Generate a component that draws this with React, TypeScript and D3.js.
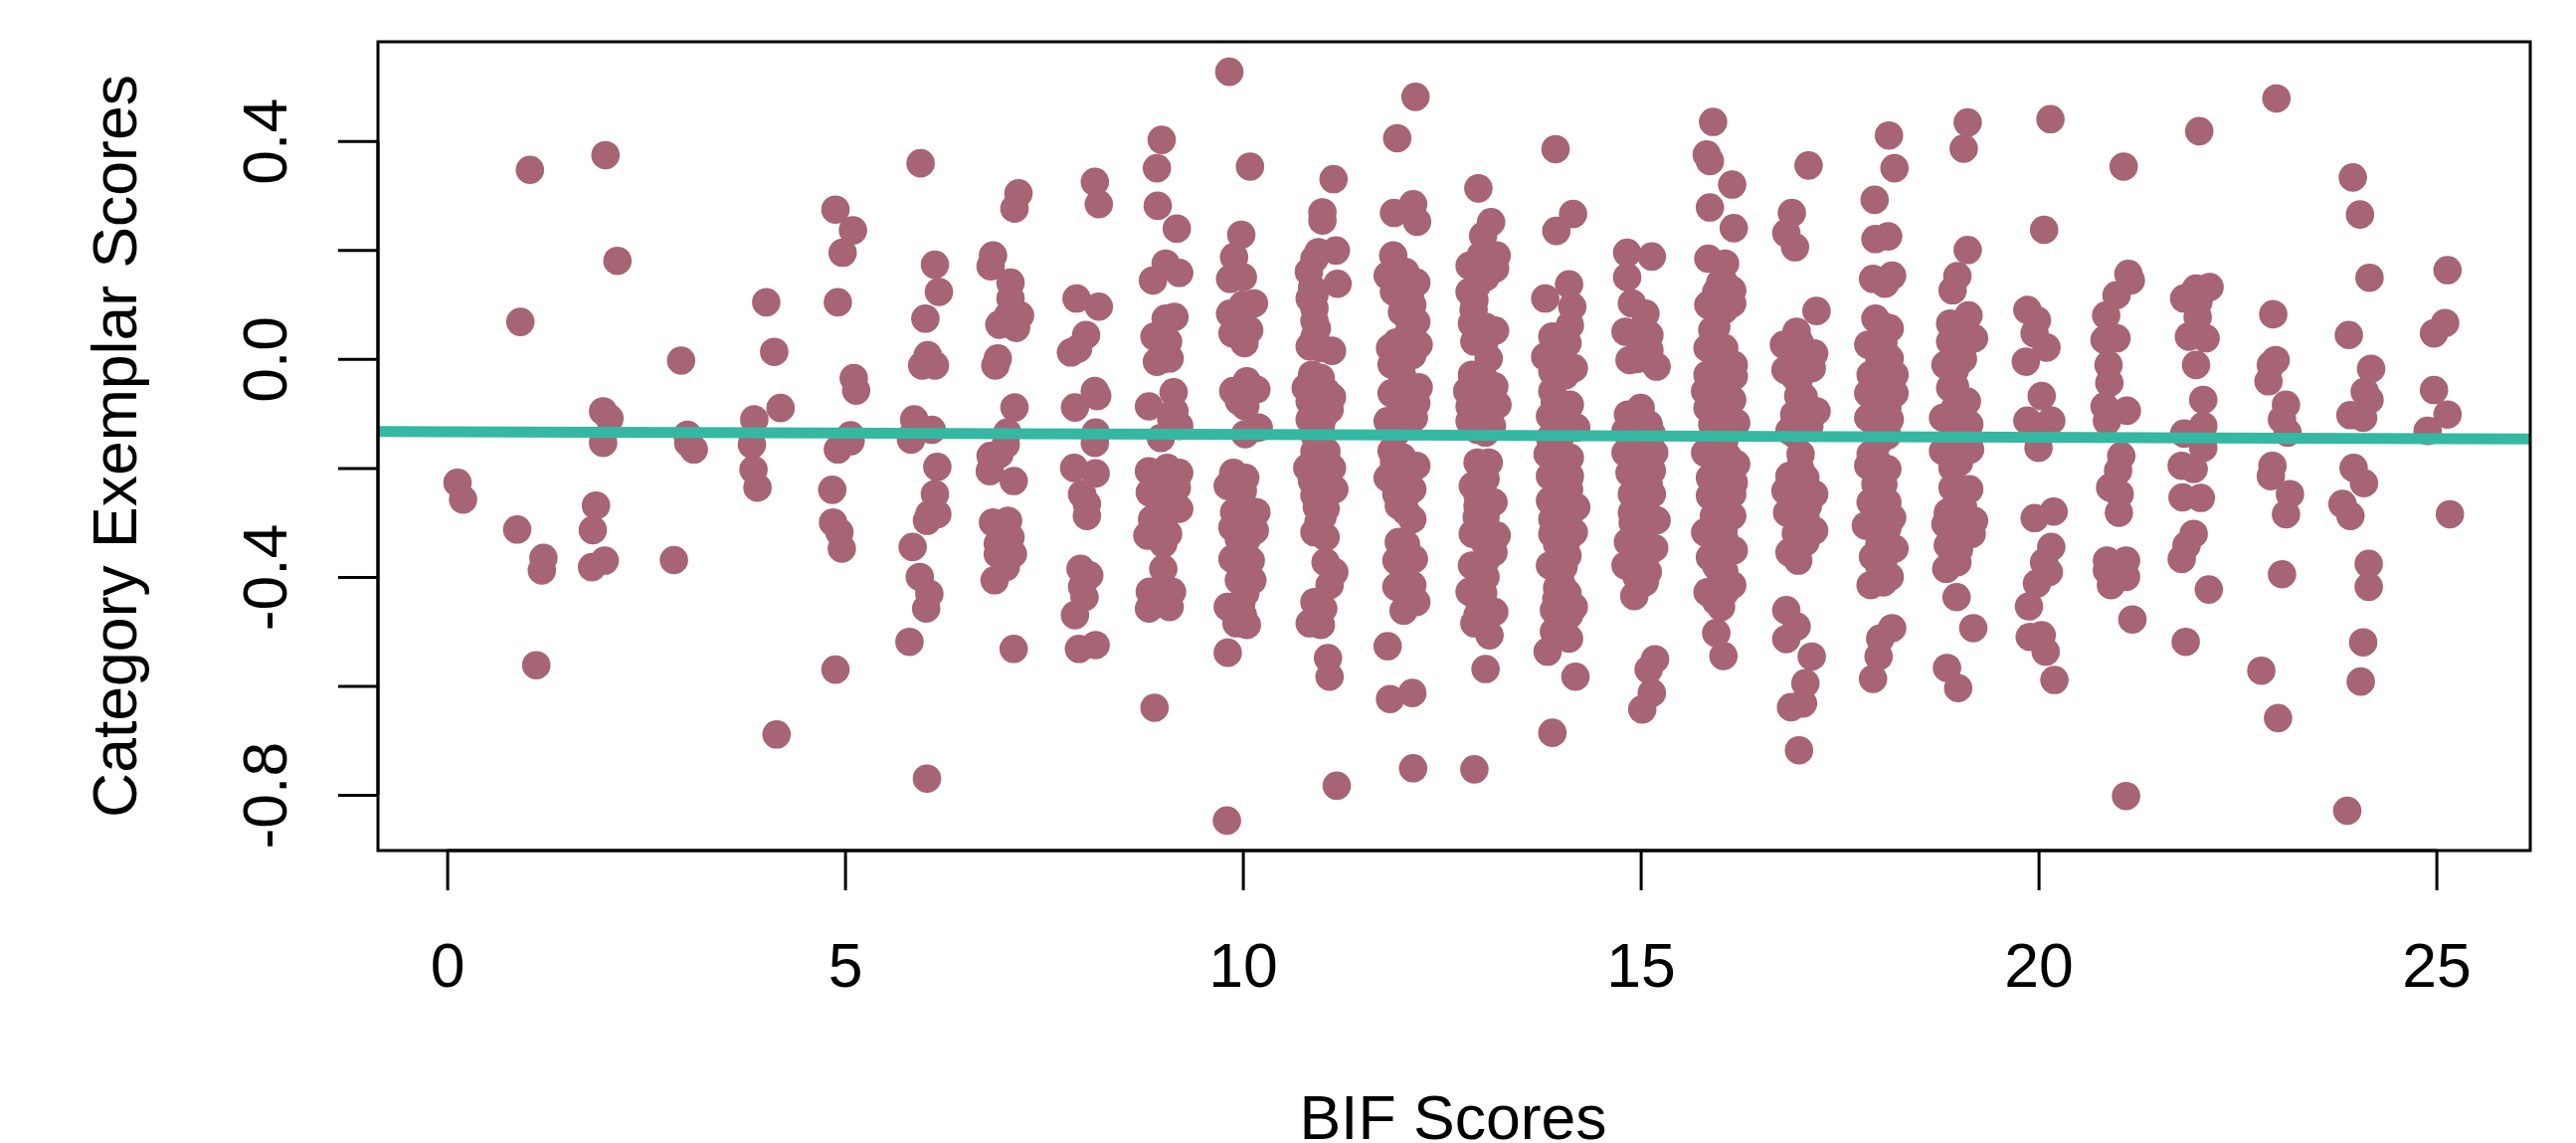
import * as d3 from "d3";
import { useEffect, useRef } from "react";

type Pt = [number, number];

// jittered [BIF score, exemplar score] pairs, one list per BIF score
const bif0: Pt[] = [[0.13,-0.227],[0.2,-0.258]];
const bif1: Pt[] = [[1.04,0.347],[0.92,0.068],[0.88,-0.313],[1.21,-0.365],[1.19,-0.388],[1.12,-0.562]];
const bif2: Pt[] = [[1.99,0.374],[2.14,0.18],[1.96,-0.096],[2.04,-0.109],[1.96,-0.154],[1.87,-0.269],[1.83,-0.314],[1.98,-0.37],[1.82,-0.382]];
const bif3: Pt[] = [[2.94,-0.003],[3.02,-0.139],[3.03,-0.154],[3.1,-0.166],[2.85,-0.369]];
const bif4: Pt[] = [[4.01,0.104],[4.11,0.013],[4.19,-0.09],[3.86,-0.111],[3.83,-0.157],[3.85,-0.203],[3.9,-0.236],[4.14,-0.689]];
const bif5: Pt[] = [[4.91,0.104],[4.88,0.274],[5.1,0.236],[4.97,0.195],[5.11,-0.035],[5.14,-0.058],[5.07,-0.14],[4.91,-0.166],[5.07,-0.151],[4.84,-0.24],[4.85,-0.3],[4.93,-0.318],[4.96,-0.348],[4.88,-0.57]];
const bif6: Pt[] = [[5.95,0.359],[6.13,0.173],[6.18,0.123],[6.01,0.074],[6.04,0.007],[5.97,-0.012],[6.13,-0.012],[5.87,-0.111],[6.09,-0.13],[5.84,-0.141],[5.83,-0.148],[6.16,-0.198],[6.13,-0.248],[6.06,-0.285],[6.16,-0.285],[6.03,-0.297],[5.85,-0.345],[5.94,-0.4],[6.06,-0.431],[6.02,-0.458],[5.81,-0.519],[6.03,-0.77]];
const bif7: Pt[] = [[7.18,0.304],[7.13,0.276],[6.86,0.19],[6.83,0.17],[7.08,0.14],[7.08,0.111],[7.2,0.08],[6.94,0.063],[7.15,0.057],[6.92,0.001],[6.89,-0.012],[7.13,-0.089],[7.04,-0.135],[7.02,-0.157],[6.83,-0.178],[6.94,-0.175],[6.82,-0.206],[7.12,-0.224],[6.86,-0.3],[7.05,-0.297],[7.08,-0.327],[6.92,-0.339],[6.92,-0.358],[7.11,-0.358],[7.02,-0.382],[6.88,-0.406],[7.12,-0.532],[7,-0.32],[7,-0.35],[7.05,0.08]];
const bif8: Pt[] = [[8.14,0.325],[8.19,0.284],[7.91,0.111],[8.19,0.096],[8.03,0.044],[7.84,0.012],[7.93,0.019],[7.89,-0.089],[8.14,-0.059],[8.17,-0.068],[8.15,-0.135],[8.14,-0.154],[7.88,-0.2],[8.15,-0.21],[7.98,-0.248],[8.04,-0.266],[8.04,-0.288],[7.96,-0.385],[8.07,-0.397],[7.98,-0.418],[8.01,-0.437],[7.89,-0.47],[7.94,-0.532],[8.15,-0.525]];
const bif9: Pt[] = [[8.98,0.402],[8.92,0.35],[8.93,0.281],[9.17,0.239],[9.03,0.175],[9.2,0.158],[8.87,0.144],[9.14,0.077],[9.03,0.074],[8.89,0.041],[9.06,0.032],[8.92,-0.005],[9.08,0.001],[9.13,-0.061],[8.82,-0.087],[9.14,-0.096],[9.2,-0.123],[8.97,-0.145],[8.82,-0.206],[9.2,-0.209],[8.97,-0.224],[8.83,-0.245],[9.17,-0.236],[8.97,-0.266],[9.2,-0.275],[8.86,-0.294],[8.8,-0.324],[9.06,-0.321],[9,-0.339],[9,-0.385],[9.11,-0.427],[8.83,-0.427],[8.82,-0.458],[9.08,-0.455],[8.89,-0.64],[9,-0.25],[9,-0.3],[9.05,-0.2],[9.05,-0.44],[8.95,-0.44],[9,0],[9.1,-0.11]];
const bif10: Pt[] = [[9.83,0.527],[10.09,0.353],[9.98,0.228],[9.89,0.187],[9.84,0.147],[10,0.15],[10.14,0.102],[10,0.099],[9.84,0.083],[9.87,0.047],[10.08,0.053],[10.02,0.029],[10.05,-0.041],[10.17,-0.056],[9.88,-0.059],[9.95,-0.077],[10.03,-0.087],[10.2,-0.126],[10.03,-0.138],[9.88,-0.209],[10.03,-0.218],[9.81,-0.233],[10,-0.242],[9.89,-0.281],[10.17,-0.281],[9.87,-0.309],[10.15,-0.315],[10,-0.303],[9.87,-0.367],[10.1,-0.37],[10,-0.345],[10.12,-0.406],[9.95,-0.406],[9.81,-0.455],[9.98,-0.449],[9.92,-0.485],[10.05,-0.488],[9.81,-0.539],[9.8,-0.847],[10,-0.27],[10.05,-0.33],[10,-0.385],[10.03,-0.43],[10,-0.47],[10.05,-0.28],[9.95,-0.33]];
const bif11: Pt[] = [[11.14,0.33],[11,0.269],[11,0.254],[11.17,0.199],[10.95,0.196],[10.9,0.184],[10.83,0.16],[11.19,0.138],[10.84,0.111],[10.9,0.093],[10.93,0.056],[10.84,0.023],[11.12,0.015],[10.98,0.02],[10.87,-0.029],[10.98,-0.035],[10.79,-0.053],[11.12,-0.07],[10.98,-0.059],[10.84,-0.078],[11.09,-0.093],[10.84,-0.111],[10.98,-0.123],[10.98,-0.15],[10.98,-0.169],[10.81,-0.2],[11.12,-0.2],[10.87,-0.224],[11.15,-0.239],[10.93,-0.272],[11.04,-0.275],[10.9,-0.318],[11.04,-0.327],[11.04,-0.373],[11.15,-0.391],[11.09,-0.415],[10.9,-0.446],[11.01,-0.458],[10.84,-0.485],[10.98,-0.488],[11.07,-0.549],[11.09,-0.583],[11.18,-0.783],[10.87,0.13],[10.9,0.07],[10.9,0.04],[10.9,0.118],[10.98,-0.09],[11,-0.11],[10.9,-0.05],[10.92,-0.09],[11.05,-0.06],[10.9,-0.14],[10.98,-0.2],[10.98,-0.23],[10.98,-0.25],[10.95,-0.3],[11,-0.29],[10.9,-0.17],[11.05,-0.17],[11.05,-0.22],[10.9,-0.25]];
const bif12: Pt[] = [[12.17,0.481],[11.94,0.405],[12.14,0.284],[11.9,0.268],[12.19,0.252],[11.89,0.19],[11.82,0.153],[12.04,0.16],[12.18,0.14],[11.9,0.123],[12.13,0.099],[12,0.086],[12.18,0.068],[12.1,0.062],[12.21,0.026],[11.85,0.02],[12.02,0.02],[11.87,-0.01],[12.13,0.007],[12,-0.01],[12.21,-0.052],[11.87,-0.063],[12.04,-0.059],[12.18,-0.081],[11.82,-0.114],[12.15,-0.108],[12,-0.093],[11.93,-0.135],[11.87,-0.169],[12.18,-0.196],[11.82,-0.218],[12.13,-0.239],[11.93,-0.248],[11.96,-0.269],[12.13,-0.294],[11.96,-0.336],[12.15,-0.367],[11.93,-0.37],[11.93,-0.418],[12.13,-0.415],[12.18,-0.446],[12.02,-0.462],[11.82,-0.527],[12.13,-0.613],[11.85,-0.624],[12.14,-0.751],[12.03,0.125],[12.1,0.12],[12.05,0.09],[12.1,0.08],[12.1,0.04],[12.05,0.04],[11.93,0.01],[11.93,0.03],[12,-0.03],[11.95,-0.07],[12.08,-0.07],[12.05,-0.1],[11.95,-0.11],[12.08,-0.12],[12,-0.125],[12,-0.18],[12.05,-0.2],[12,-0.22],[12.05,-0.25],[11.9,-0.19],[12.05,-0.28],[12,-0.38],[12.08,-0.36],[12.05,-0.34],[12.05,-0.43]];
const bif13: Pt[] = [[12.96,0.313],[13.12,0.251],[13.02,0.226],[13.19,0.19],[12.99,0.19],[13.17,0.166],[12.85,0.171],[12.85,0.123],[12.94,0.135],[12.91,0.108],[12.88,0.065],[13.17,0.052],[13.05,0.059],[12.91,0.032],[13.09,0.001],[12.88,-0.029],[13.16,-0.05],[12.82,-0.059],[12.99,-0.059],[13.2,-0.084],[12.85,-0.087],[13.05,-0.084],[13.13,-0.123],[12.85,-0.114],[13.05,-0.135],[13.09,-0.19],[12.98,-0.196],[12.89,-0.233],[13.15,-0.263],[13.05,-0.254],[12.94,-0.29],[13.19,-0.324],[12.89,-0.321],[13.05,-0.315],[13.15,-0.355],[12.88,-0.379],[13.05,-0.4],[12.85,-0.427],[13.16,-0.464],[13.02,-0.43],[12.91,-0.485],[13.1,-0.507],[13.05,-0.569],[12.91,-0.753],[13.05,0.18],[12.93,0.165],[13.05,0.15],[12.9,0.09],[12.95,0.055],[12.93,-0.07],[13.05,-0.04],[12.93,-0.1],[13,-0.11],[12.95,-0.13],[13.05,-0.1],[13.03,0.03],[13,0.06],[12.95,-0.19],[12.95,-0.25],[13.05,-0.22],[13.05,-0.29],[12.98,-0.32],[12.95,-0.27],[13.05,-0.34],[13.05,-0.37],[12.95,-0.44],[13.05,-0.46],[12.95,-0.47],[13.03,-0.49]];
const bif14: Pt[] = [[13.93,0.385],[14.15,0.266],[13.94,0.235],[14.1,0.137],[13.8,0.111],[14.14,0.096],[14.11,0.062],[13.89,0.041],[14.08,0.029],[13.8,0.004],[14.16,-0.017],[13.89,-0.023],[13.89,-0.059],[14.11,-0.084],[13.86,-0.105],[14.19,-0.126],[14,-0.12],[13.86,-0.145],[13.83,-0.175],[14.11,-0.181],[13.86,-0.215],[14.11,-0.215],[13.86,-0.26],[14.19,-0.272],[14,-0.248],[13.89,-0.294],[13.89,-0.321],[14.16,-0.318],[14.08,-0.361],[13.86,-0.379],[14.03,-0.382],[13.94,-0.44],[14.16,-0.455],[14,-0.412],[13.91,-0.461],[13.91,-0.5],[14.1,-0.513],[13.83,-0.537],[14.18,-0.583],[13.89,-0.686],[14,-0.17],[14,-0.2],[14,-0.23],[14,-0.27],[14,-0.31],[14,-0.34],[14,-0.37],[14,-0.44],[14,-0.47],[14,-0.5],[14.1,-0.24],[14.1,-0.28],[14.08,-0.33],[14.08,-0.43],[14.1,-0.47],[13.95,-0.34],[13.95,-0.42],[13.93,-0.18],[13.97,0.02],[14,0],[13.95,-0.03],[13.92,-0.08],[14,-0.1],[14,-0.14],[14,0.04],[14.05,-0.03]];
const bif15: Pt[] = [[14.83,0.195],[15.14,0.188],[14.83,0.15],[14.89,0.102],[15.06,0.083],[14.81,0.05],[15.11,0.044],[14.97,0.044],[14.86,-0.002],[15.2,-0.014],[15.11,0.016],[15,-0.09],[14.84,-0.102],[14.81,-0.132],[15.14,-0.138],[14.97,-0.15],[14.81,-0.172],[15.17,-0.172],[14.95,-0.187],[14.86,-0.209],[15.14,-0.205],[14.89,-0.248],[15.14,-0.248],[14.89,-0.282],[15.2,-0.296],[15,-0.29],[14.84,-0.336],[15.17,-0.347],[15,-0.327],[14.81,-0.379],[15.09,-0.391],[14.97,-0.376],[14.92,-0.435],[15.18,-0.551],[15.1,-0.57],[15.14,-0.613],[15.02,-0.643],[15,-0.17],[15,-0.2],[15,-0.23],[15,-0.26],[15.03,-0.31],[15,-0.35],[14.9,-0.3],[14.92,-0.36],[15.05,-0.37],[15.1,-0.3],[15.1,-0.2],[15.1,-0.23],[14.95,-0.4],[15.05,-0.41],[15,-0.385],[15,0.02],[14.95,0],[15.1,0],[15,-0.12],[14.95,-0.14],[15.05,-0.14],[15.1,-0.12]];
const bif16: Pt[] = [[15.91,0.435],[15.83,0.375],[15.87,0.363],[16.15,0.32],[15.87,0.278],[16.17,0.24],[15.85,0.184],[16.06,0.175],[16.15,0.126],[15.95,0.123],[16.15,0.102],[15.85,0.099],[15.9,0.053],[15.95,0.059],[15.84,0.02],[16,0.004],[16.17,-0.011],[15.84,-0.029],[16.17,-0.032],[16,-0.041],[15.81,-0.059],[16.15,-0.075],[15.84,-0.09],[16.2,-0.117],[15.9,-0.12],[16,-0.102],[15.9,-0.145],[15.81,-0.172],[16.2,-0.193],[16,-0.175],[15.87,-0.218],[16.17,-0.227],[15.87,-0.251],[16.15,-0.248],[15.92,-0.288],[16.15,-0.288],[15.81,-0.318],[16.04,-0.315],[16.17,-0.351],[15.87,-0.364],[16.04,-0.358],[15.84,-0.428],[16.15,-0.415],[16.01,-0.406],[16.01,-0.455],[15.95,-0.503],[16.04,-0.545],[16,-0.2],[16,-0.23],[16,-0.26],[16,-0.29],[16.05,-0.33],[16,-0.34],[15.95,-0.38],[16.05,-0.39],[15.95,-0.22],[16.08,-0.2],[16.08,-0.26],[15.93,-0.32],[16.1,-0.18],[16.05,-0.43],[15.95,-0.445],[16,0.14],[15.95,0.09],[16.05,0.09],[16.05,0.14],[15.95,0.02],[16.05,0.02],[15.95,-0.03],[16.05,-0.02],[15.97,-0.07],[16.05,-0.08],[16.05,-0.12],[15.95,-0.11],[16.05,-0.15]];
const bif17: Pt[] = [[17.11,0.355],[16.9,0.268],[16.83,0.231],[16.94,0.205],[17.21,0.088],[16.96,0.05],[16.8,0.026],[17.18,0.01],[17.01,0.001],[17.15,-0.017],[16.82,-0.02],[16.98,-0.041],[16.98,-0.068],[17.21,-0.096],[16.93,-0.102],[16.87,-0.132],[17.12,-0.123],[17.01,-0.175],[17.07,-0.218],[16.87,-0.215],[17.18,-0.248],[16.82,-0.242],[17.01,-0.254],[16.84,-0.282],[17.18,-0.315],[17.01,-0.297],[17.07,-0.336],[16.87,-0.355],[16.98,-0.37],[16.83,-0.461],[16.96,-0.491],[16.83,-0.514],[17.15,-0.546],[17.07,-0.595],[17.04,-0.632],[16.89,-0.639],[16.99,-0.718],[17,0.03],[17.05,-0.02],[16.92,-0.03],[17.05,-0.07],[16.95,-0.14],[17,-0.13],[17.05,-0.11],[17,-0.2],[17,-0.22],[16.95,-0.24],[17.1,-0.27],[16.95,-0.28],[16.95,-0.32],[17.07,-0.29],[17,-0.33]];
const bif18: Pt[] = [[18.12,0.41],[18.19,0.35],[17.94,0.292],[18.11,0.225],[17.95,0.22],[18.16,0.153],[17.92,0.147],[18.07,0.138],[17.95,0.074],[18.13,0.056],[17.86,0.026],[18,0.038],[18.13,0.001],[17.89,-0.029],[18.19,-0.029],[18.04,-0.011],[17.86,-0.063],[18.19,-0.063],[18.04,-0.05],[17.86,-0.108],[18.13,-0.111],[17.98,-0.096],[18.01,-0.132],[17.89,-0.175],[17.86,-0.196],[18.1,-0.202],[17.95,-0.181],[17.89,-0.263],[18.1,-0.263],[18.16,-0.291],[17.83,-0.306],[18.04,-0.306],[18.19,-0.348],[17.92,-0.363],[18.13,-0.4],[17.89,-0.415],[18.16,-0.494],[18.01,-0.513],[17.99,-0.546],[17.92,-0.587],[18.05,0.03],[18.05,0.06],[18,0],[18.1,-0.04],[17.95,-0.03],[17.95,-0.06],[18.1,-0.09],[17.95,-0.12],[18.1,-0.14],[18,-0.15],[18,-0.2],[18.05,-0.23],[17.95,-0.23],[18,-0.26],[18.1,-0.31],[17.95,-0.31],[18,-0.34],[18.05,-0.37],[18,-0.38],[18.05,-0.41]];
const bif19: Pt[] = [[19.11,0.434],[19.06,0.386],[19.11,0.2],[18.98,0.152],[18.92,0.126],[19.12,0.08],[18.89,0.065],[19.19,0.038],[18.89,0.032],[19.04,0.044],[18.83,-0.011],[19.04,0.007],[18.89,-0.053],[19.1,-0.078],[18.8,-0.108],[19.13,-0.12],[18.95,-0.123],[18.95,-0.09],[18.8,-0.169],[19.14,-0.166],[18.92,-0.2],[19.13,-0.239],[18.92,-0.236],[18.86,-0.282],[19.19,-0.297],[18.83,-0.303],[19.16,-0.321],[18.86,-0.342],[19.01,-0.333],[18.98,-0.373],[18.84,-0.385],[18.97,-0.437],[19.18,-0.494],[18.85,-0.567],[18.99,-0.604],[18.98,0.03],[19.05,0],[18.95,-0.02],[18.95,-0.05],[19,-0.14],[19.05,-0.12],[18.95,-0.17],[19,-0.19],[18.95,-0.27],[19.05,-0.27],[19.05,-0.31],[18.95,-0.31],[19,-0.35],[18.92,-0.36]];
const bif20: Pt[] = [[20.15,0.44],[20.07,0.237],[19.86,0.09],[19.98,0.071],[19.95,0.047],[20.1,0.021],[19.84,-0.005],[20.04,-0.068],[19.86,-0.113],[20.16,-0.113],[20.01,-0.135],[20,-0.163],[20.19,-0.28],[19.95,-0.292],[20.16,-0.345],[20.07,-0.373],[20.13,-0.391],[19.98,-0.412],[19.88,-0.454],[19.89,-0.51],[20.04,-0.507],[20.09,-0.537],[20.2,-0.589]];
const bif21: Pt[] = [[21.07,0.353],[21.13,0.156],[21.16,0.144],[20.98,0.117],[20.85,0.08],[20.98,0.038],[20.83,0.035],[20.88,-0.011],[20.89,-0.044],[20.83,-0.087],[21.11,-0.095],[20.86,-0.114],[21.04,-0.178],[21,-0.205],[20.9,-0.236],[21.02,-0.248],[21.01,-0.282],[20.86,-0.37],[21.1,-0.37],[20.86,-0.388],[21.1,-0.4],[20.91,-0.415],[21.18,-0.478],[21.1,-0.802],[20.98,-0.38]];
const bif22: Pt[] = [[22.02,0.418],[22.15,0.132],[21.98,0.129],[21.83,0.111],[22.01,0.105],[22,0.077],[21.89,0.041],[22.1,0.038],[21.98,-0.011],[22.07,-0.075],[22.07,-0.123],[21.83,-0.137],[22.07,-0.163],[21.8,-0.196],[21.95,-0.202],[21.81,-0.254],[22.04,-0.255],[21.95,-0.321],[21.86,-0.342],[21.8,-0.367],[22.14,-0.423],[21.85,-0.519]];
const bif23: Pt[] = [[22.99,0.478],[22.95,0.082],[22.98,-0.002],[22.92,-0.011],[22.89,-0.041],[23.11,-0.084],[23.06,-0.111],[23.13,-0.135],[22.94,-0.196],[22.92,-0.215],[23.16,-0.248],[23.11,-0.285],[23.06,-0.395],[22.8,-0.572],[23.01,-0.659]];
const bif24: Pt[] = [[23.95,0.333],[24.04,0.265],[24.16,0.149],[23.9,0.044],[24.18,-0.018],[24.1,-0.06],[24.16,-0.075],[23.92,-0.103],[24.08,-0.108],[23.96,-0.2],[24.09,-0.228],[23.82,-0.266],[23.92,-0.288],[24.15,-0.376],[24.15,-0.418],[24.08,-0.52],[24.05,-0.592],[23.88,-0.829]];
const bif25: Pt[] = [[25.14,0.163],[25.11,0.066],[24.97,0.047],[24.97,-0.057],[25.14,-0.102],[24.89,-0.132],[25.17,-0.285]];

const points = [bif0, bif1, bif2, bif3, bif4, bif5, bif6, bif7, bif8, bif9, bif10, bif11, bif12, bif13, bif14, bif15, bif16, bif17, bif18, bif19, bif20, bif21, bif22, bif23, bif24, bif25].flat();

// fitted line, value at each edge of the plot
const fitX = [-0.87, 26.18];
const fitY = [-0.133, -0.147];

const xTicks = [0, 5, 10, 15, 20, 25];
const yTicks = [0.4, 0.2, 0, -0.2, -0.4, -0.6, -0.8];
const yLabelled = [0.4, 0, -0.4, -0.8];

const FONT = "'Liberation Sans', Arial, sans-serif";

const App = () => {
  const width = 2590,
    height = 1149,
    left = 380,
    right = 2544,
    top = 42,
    bottom = 855,
    fontSize = 62.5;

  const x = d3.scaleLinear([-0.87, 26.18], [left, right]);
  const y = d3.scaleLinear([-0.902, 0.582], [bottom, top]);
  const fit = d3.line<number>(
    (d) => x(d),
    (d, i) => y(fitY[i]),
  );

  const gx = useRef<SVGGElement>(null);
  const gy = useRef<SVGGElement>(null);

  useEffect(() => {
    const g = d3.select(gx.current);
    g.call(d3.axisBottom(x).tickValues(xTicks).tickSize(40).tickFormat((d) => String(d)));
    g.select(".domain").remove();
    g.selectAll("line").attr("stroke", "#000").attr("stroke-width", 3);
    g.selectAll("text")
      .attr("y", 137)
      .attr("dy", 0)
      .attr("font-size", fontSize)
      .attr("font-family", FONT)
      .attr("fill", "#000");
  }, []);

  useEffect(() => {
    const g = d3.select(gy.current);
    g.call(
      d3
        .axisLeft(y)
        .tickValues(yTicks)
        .tickSize(40)
        .tickFormat((d) => (yLabelled.includes(+d) ? d3.format(".1f")(+d).replace("−", "-") : "")),
    );
    g.select(".domain").remove();
    g.selectAll("line").attr("stroke", "#000").attr("stroke-width", 3);
    g.selectAll("text")
      .attr("x", 0)
      .attr("dy", 0)
      .attr("text-anchor", "middle")
      .attr("transform", "translate(-92, 0) rotate(-90)")
      .attr("font-size", fontSize)
      .attr("font-family", FONT)
      .attr("fill", "#000");
  }, []);

  return (
    <svg
      width={width}
      height={height}
      style={{ position: "absolute", left: 0, top: 0, background: "#fff" }}
    >
      <g fill="#A66475">
        {points.map((d, i) => (
          <circle key={i} cx={x(d[0])} cy={y(d[1])} r={14.3} />
        ))}
      </g>
      <path d={fit(fitX) ?? ""} fill="none" stroke="#35B8A2" strokeWidth={11} />
      <rect x={left} y={top} width={right - left} height={bottom - top} fill="none" stroke="#000" strokeWidth={3} />
      {/* axis lines run tick to tick, on top of the frame */}
      <line x1={x(xTicks[0])} x2={x(xTicks[5])} y1={bottom} y2={bottom} stroke="#000" strokeWidth={3} />
      <line x1={left} x2={left} y1={y(yTicks[0])} y2={y(yTicks[6])} stroke="#000" strokeWidth={3} />
      <g ref={gx} transform={`translate(0, ${bottom})`} />
      <g ref={gy} transform={`translate(${left}, 0)`} />
      <text x={1461} y={1145} textAnchor="middle" fontSize={fontSize} fontFamily={FONT}>
        BIF Scores
      </text>
      <text
        transform={`translate(137, ${(top + bottom) / 2}) rotate(-90)`}
        textAnchor="middle"
        fontSize={fontSize}
        fontFamily={FONT}
      >
        Category Exemplar Scores
      </text>
    </svg>
  );
};

export default App;
